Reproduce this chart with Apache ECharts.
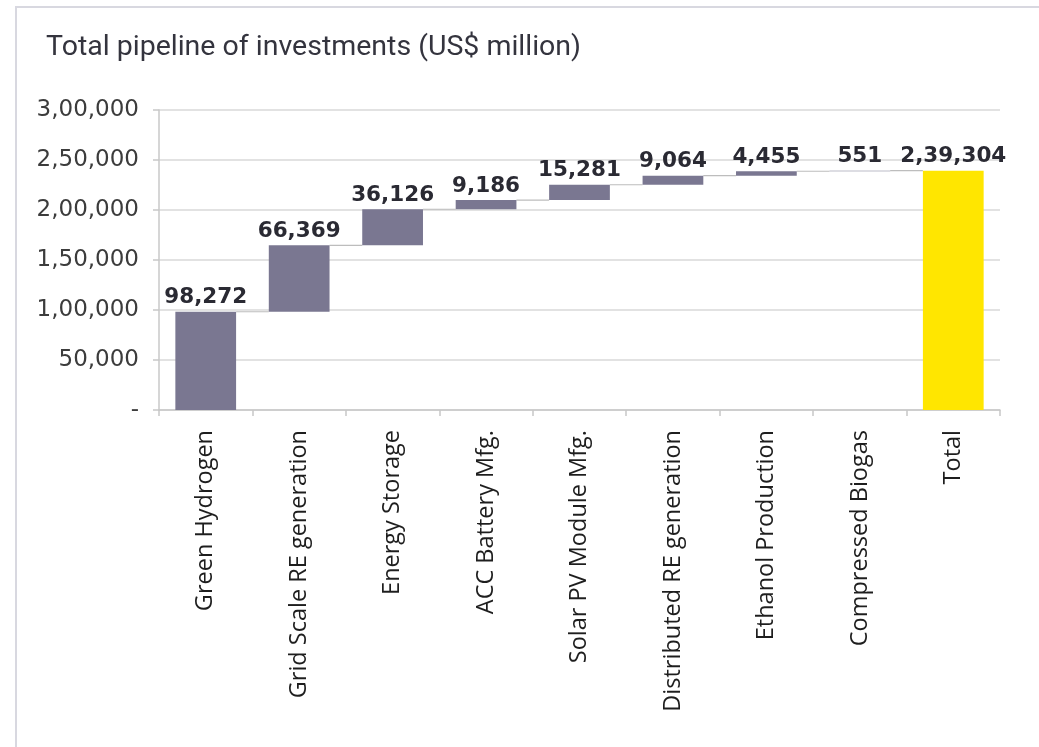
<!DOCTYPE html>
<html>
<head>
<meta charset="utf-8">
<script src="https://cdn.jsdelivr.net/npm/echarts@6/dist/echarts.min.js"></script>
<style>
  html, body { margin: 0; padding: 0; background: #ffffff; }
  #chart { width: 1039px; height: 747px; }
</style>
</head>
<body>
<div id="chart"></div>
<script>
// Investment pipeline by segment, US$ million
const categories = [
  'Green Hydrogen', 'Grid Scale RE generation', 'Energy Storage',
  'ACC Battery Mfg.', 'Solar PV Module Mfg.', 'Distributed RE generation',
  'Ethanol Production', 'Compressed Biogas', 'Total'
];
const increments = [98272, 66369, 36126, 9186, 15281, 9064, 4455, 551];
const totalValue = 239304;
const yTicks = { min: 0, max: 300000, step: 50000 };

// Indian digit grouping: 2,39,304 / 3,00,000
function formatIN(v) {
  const s = String(Math.round(Math.abs(v)));
  if (s.length <= 3) return s;
  const last3 = s.slice(-3);
  let rest = s.slice(0, -3);
  const parts = [];
  while (rest.length > 2) {
    parts.unshift(rest.slice(-2));
    rest = rest.slice(0, -2);
  }
  if (rest) parts.unshift(rest);
  return parts.join(',') + ',' + last3;
}

// Floating bases for the waterfall steps; the total bar starts at zero
const bases = [];
let running = 0;
increments.forEach(v => { bases.push(running); running += v; });
bases.push(0);
const stepValues = increments.concat([totalValue]);
const levels = increments.map((v, i) => bases[i] + v); // top of each step

const BAR_COLOR = '#7a7791';
const TOTAL_COLOR = '#ffe600';

const chart = echarts.init(document.getElementById('chart'), null, { renderer: 'canvas' });

chart.setOption({
  animation: false,
  backgroundColor: '#ffffff',
  title: {
    text: 'Total pipeline of investments (US$ million)',
    left: 41,
    top: 28,
    textStyle: {
      fontFamily: 'Roboto',
      fontWeight: 'normal',
      fontSize: 28.5,
      color: '#34343e'
    }
  },
  graphic: [
    { type: 'line', shape: { x1: 15, y1: 7, x2: 1039, y2: 7 }, style: { stroke: '#d8d8e0', lineWidth: 2 }, silent: true },
    { type: 'line', shape: { x1: 16, y1: 6, x2: 16, y2: 747 }, style: { stroke: '#d8d8e0', lineWidth: 2 }, silent: true }
  ],
  grid: { left: 159, right: 39, top: 110, bottom: 337, containLabel: false },
  xAxis: {
    type: 'category',
    data: categories,
    axisLine: { lineStyle: { color: '#c8c8c8', width: 1.5 } },
    axisTick: { show: true, length: 6, alignWithLabel: false, lineStyle: { color: '#c8c8c8', width: 1.5 } },
    axisLabel: {
      rotate: 90,
      margin: 20,
      interval: 0,
      fontFamily: 'Open Sans',
      fontSize: 23.5,
      color: '#1e1e1e'
    }
  },
  yAxis: {
    type: 'value',
    min: yTicks.min,
    max: yTicks.max,
    interval: yTicks.step,
    axisLine: { show: true, lineStyle: { color: '#c8c8c8', width: 1.5 } },
    axisTick: { show: true, length: 6, lineStyle: { color: '#c8c8c8', width: 1.5 } },
    splitLine: { show: true, lineStyle: { color: '#d9d9d9', width: 1.5 } },
    axisLabel: {
      margin: 20,
      fontFamily: 'DejaVu Sans',
      fontSize: 23,
      color: '#3c3c3c',
      formatter: v => (v === 0 ? '-' : formatIN(v))
    }
  },
  series: [
    {
      name: 'base',
      type: 'bar',
      stack: 'wf',
      barWidth: '65%',
      silent: true,
      itemStyle: { color: 'transparent' },
      data: bases
    },
    {
      name: 'value',
      type: 'bar',
      stack: 'wf',
      barWidth: '65%',
      data: stepValues.map((v, i) => ({
        value: v,
        itemStyle: { color: i === stepValues.length - 1 ? TOTAL_COLOR : BAR_COLOR }
      })),
      label: {
        show: true,
        position: 'top',
        distance: 3,
        fontFamily: 'DejaVu Sans',
        fontWeight: 'bold',
        fontSize: 21.5,
        color: '#2a2a33',
        formatter: p => formatIN(p.value)
      },
      z: 3
    },
    {
      // thin connectors between successive steps
      name: 'connector',
      type: 'custom',
      silent: true,
      z: 2,
      data: levels.map((lv, i) => [i, lv]),
      renderItem: function (params, api) {
        const i = api.value(0);
        const lv = api.value(1);
        const p0 = api.coord([i, lv]);
        const p1 = api.coord([i + 1, lv]);
        const half = api.size([1, 0])[0] * 0.65 / 2;
        return {
          type: 'line',
          shape: { x1: p0[0] + half, y1: p0[1], x2: p1[0] - half, y2: p1[1] },
          style: { stroke: '#bdbdbd', lineWidth: 1.2 }
        };
      }
    }
  ]
});
</script>
</body>
</html>
